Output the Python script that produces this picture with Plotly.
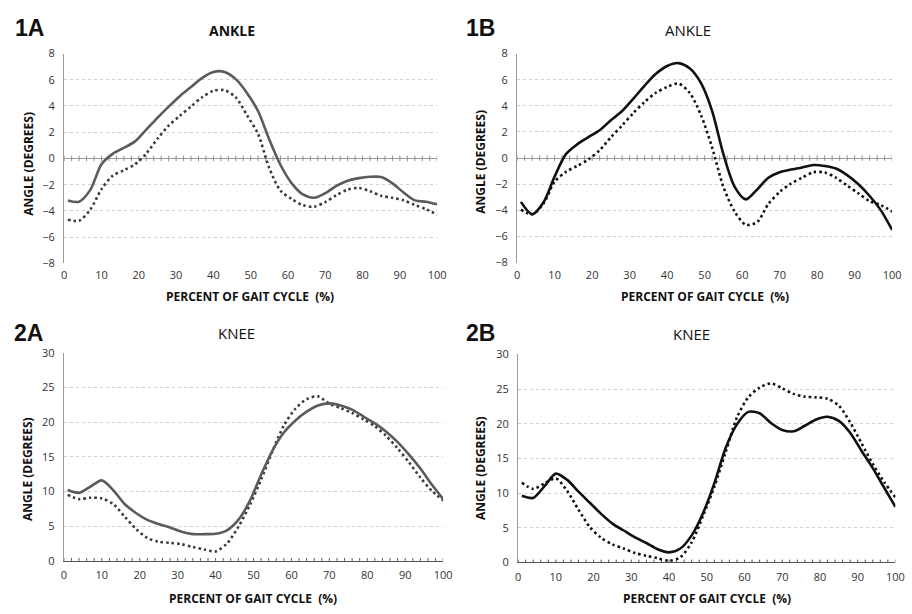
import plotly.graph_objects as go

# Percent of gait cycle at which the joint angles are sampled
pct = [1, 4, 7, 10, 13, 16, 19, 22, 25, 28, 31, 34, 37, 40, 43, 46, 49,
       52, 55, 58, 61, 64, 67, 70, 73, 76, 79, 82, 85, 88, 91, 94, 97, 100]

# Ankle angle (degrees), panel 1A
ankle_a_solid = [-3.2, -3.3, -2.4, -0.45, 0.35, 0.8, 1.3, 2.2, 3.1, 3.95, 4.75, 5.45,
                 6.15, 6.6, 6.6, 6.05, 5.0, 3.6, 1.43, -0.5, -1.9, -2.75, -3.0, -2.65,
                 -2.1, -1.7, -1.5, -1.4, -1.42, -1.9, -2.6, -3.2, -3.3, -3.5]
ankle_a_dotted = [-4.67, -4.75, -3.9, -2.35, -1.32, -0.9, -0.45, 0.37, 1.5, 2.5, 3.25,
                  3.96, 4.67, 5.17, 5.2, 4.66, 3.3, 1.85, -0.75, -2.46, -3.1, -3.57,
                  -3.68, -3.33, -2.8, -2.38, -2.25, -2.5, -2.85, -3.0, -3.2, -3.55,
                  -3.87, -4.3]

# Ankle angle (degrees), panel 1B
ankle_b_solid = [-3.35, -4.3, -3.4, -1.41, 0.3, 1.05, 1.6, 2.13, 2.9, 3.6, 4.55, 5.55,
                 6.45, 7.05, 7.27, 6.87, 5.75, 3.6, 0.3, -2.2, -3.16, -2.4, -1.5,
                 -1.08, -0.88, -0.72, -0.53, -0.6, -0.8, -1.3, -2.0, -2.9, -4.0, -5.5]
ankle_b_dotted = [-3.95, -4.3, -3.5, -1.8, -1.05, -0.6, -0.1, 0.6, 1.6, 2.5, 3.45,
                  4.3, 5.0, 5.45, 5.7, 5.0, 3.3, 0.8, -2.2, -4.1, -5.1, -4.9, -3.5,
                  -2.6, -1.95, -1.5, -1.08, -1.1, -1.5, -2.1, -2.7, -3.3, -3.6, -4.1]

# Knee angle (degrees), panel 2A
knee_a_solid = [10.2, 9.8, 10.7, 11.6, 10.2, 8.2, 6.9, 5.9, 5.3, 4.8, 4.2, 3.85, 3.85,
                3.9, 4.4, 5.9, 8.6, 12.4, 15.9, 18.5, 20.2, 21.5, 22.4, 22.7, 22.4,
                21.8, 20.8, 19.8, 18.6, 17.1, 15.3, 13.3, 11.0, 8.9]
knee_a_dotted = [9.5, 8.9, 9.1, 9.0, 8.2, 6.4, 4.6, 3.3, 2.75, 2.6, 2.4, 2.0, 1.65,
                 1.35, 2.5, 4.9, 8.0, 11.7, 15.8, 19.5, 21.9, 23.3, 23.7, 22.65, 22.0,
                 21.3, 20.4, 19.4, 18.0, 16.2, 14.2, 12.0, 10.1, 8.7]

# Knee angle (degrees), panel 2B
knee_b_solid = [9.6, 9.3, 11.0, 12.8, 11.9, 10.2, 8.6, 7.0, 5.6, 4.6, 3.6, 2.8, 1.9,
                1.45, 2.0, 3.9, 7.1, 11.4, 16.5, 19.9, 21.7, 21.5, 20.1, 19.1, 18.9,
                19.7, 20.6, 21.0, 20.4, 18.7, 16.1, 13.6, 10.8, 8.0]
knee_b_dotted = [11.5, 10.6, 11.4, 12.1, 10.3, 7.6, 5.1, 3.55, 2.6, 2.0, 1.35, 0.96,
                 0.6, 0.25, 0.75, 2.9, 6.7, 10.9, 15.9, 20.9, 23.8, 25.2, 25.8, 25.1,
                 24.3, 23.9, 23.8, 23.6, 22.6, 20.2, 17.2, 14.2, 11.6, 9.4]

x_tick_vals = [0, 10, 20, 30, 40, 50, 60, 70, 80, 90, 100]
minor_tick_step = 2

W, H = 912, 614
TEXT_FONT = "Open Sans"
GRID = "#d0d0d0"

# per panel: series, line colours, plot area in pixels, y-range and tick step
panels = [
    dict(solid=ankle_a_solid, dotted=ankle_a_dotted, sc="#5b5b5b", dc="#3a3a3a",
         xpx=(62, 440), ypx=(46.7, 261.7), yr=(-8, 8), dt=2, kind="ankle"),
    dict(solid=ankle_b_solid, dotted=ankle_b_dotted, sc="#111111", dc="#111111",
         xpx=(521, 901), ypx=(46.7, 261.0), yr=(-8, 8), dt=2, kind="ankle"),
    dict(solid=knee_a_solid, dotted=knee_a_dotted, sc="#5b5b5b", dc="#3a3a3a",
         xpx=(61.7, 446), ypx=(353.3, 566.7), yr=(0, 30), dt=5, kind="knee"),
    dict(solid=knee_b_solid, dotted=knee_b_dotted, sc="#111111", dc="#111111",
         xpx=(522, 904.3), ypx=(355, 568.3), yr=(0, 30), dt=5, kind="knee"),
]

fig = go.Figure()
layout = {}
minor_x = list(range(0, 101, minor_tick_step))

for i, p in enumerate(panels, start=1):
    sfx = "" if i == 1 else str(i)
    xref, yref = "x" + sfx, "y" + sfx
    # small tick marks crossing the horizontal zero axis
    fig.add_trace(go.Scatter(
        x=minor_x, y=[0] * len(minor_x), mode="markers", xaxis=xref, yaxis=yref,
        marker=dict(symbol="line-ns", size=4,
                    line=dict(width=1, color="#909090" if p["kind"] == "ankle" else "#555555")),
        hoverinfo="skip", showlegend=False))
    fig.add_trace(go.Scatter(
        x=pct, y=p["dotted"], mode="lines", xaxis=xref, yaxis=yref,
        line=dict(color=p["dc"], width=2.6, dash="2.5px,3px", shape="spline", smoothing=0.8),
        showlegend=False))
    fig.add_trace(go.Scatter(
        x=pct, y=p["solid"], mode="lines", xaxis=xref, yaxis=yref,
        line=dict(color=p["sc"], width=2.6, shape="spline", smoothing=0.8),
        showlegend=False))

    x0, x1 = p["xpx"]
    ytop, ybot = p["ypx"]
    layout["xaxis" + sfx] = dict(
        domain=[x0 / W, x1 / W], range=[0, 100], anchor=yref,
        tickvals=x_tick_vals, showgrid=False, zeroline=False,
        showline=(p["kind"] == "knee"), linecolor="#555555", linewidth=1.2,
        ticks="", tickfont=dict(family=TEXT_FONT, size=11, color="#333333"),
        ticklabelstandoff=4, fixedrange=True)
    layout["yaxis" + sfx] = dict(
        domain=[1 - ybot / H, 1 - ytop / H], range=list(p["yr"]), dtick=p["dt"],
        anchor=xref, showgrid=True, gridcolor=GRID, griddash="3px,3px", gridwidth=1,
        zeroline=(p["kind"] == "ankle"), zerolinecolor="#9a9a9a", zerolinewidth=1.2,
        showline=True, linecolor="#9a9a9a", linewidth=1.2, ticks="",
        tickfont=dict(family=TEXT_FONT, size=11, color="#333333"),
        ticklabelstandoff=6, fixedrange=True)

annotations = []


def label(text, xpx, ypx, size, bold=True, family=TEXT_FONT, angle=0, xanchor="center"):
    annotations.append(dict(
        text=f"<b>{text}</b>" if bold else text, x=xpx / W, y=1 - ypx / H,
        xref="paper", yref="paper", showarrow=False, xanchor=xanchor, yanchor="middle",
        textangle=angle, font=dict(family=family, size=size, color="#111111")))


# panel letters
for txt, xp, yp in [("1A", 10, 20), ("1B", 467, 20), ("2A", 9, 333), ("2B", 467, 333)]:
    label(txt, xp, yp, 23, family="Liberation Sans", xanchor="left")

# panel titles
label("ANKLE", 232, 23, 14, bold=True)
label("ANKLE", 694, 23, 15, bold=False)
label("KNEE", 237, 333, 15, bold=False)
label("KNEE", 698, 334, 15, bold=False)

# axis titles
for xp, yp in [(250, 296), (711, 296), (253, 605), (713, 605)]:
    label("PERCENT OF GAIT CYCLE&nbsp;&nbsp;(%)", xp, yp, 12)
for xp, yp in [(25, 160), (484, 158), (25, 473), (484, 472)]:
    label("ANGLE (DEGREES)", xp, yp, 12, angle=-90)

fig.update_layout(
    width=W, height=H, margin=dict(l=0, r=0, t=0, b=0),
    paper_bgcolor="white", plot_bgcolor="white",
    annotations=annotations, showlegend=False, **layout)

fig.write_html("out.html")
